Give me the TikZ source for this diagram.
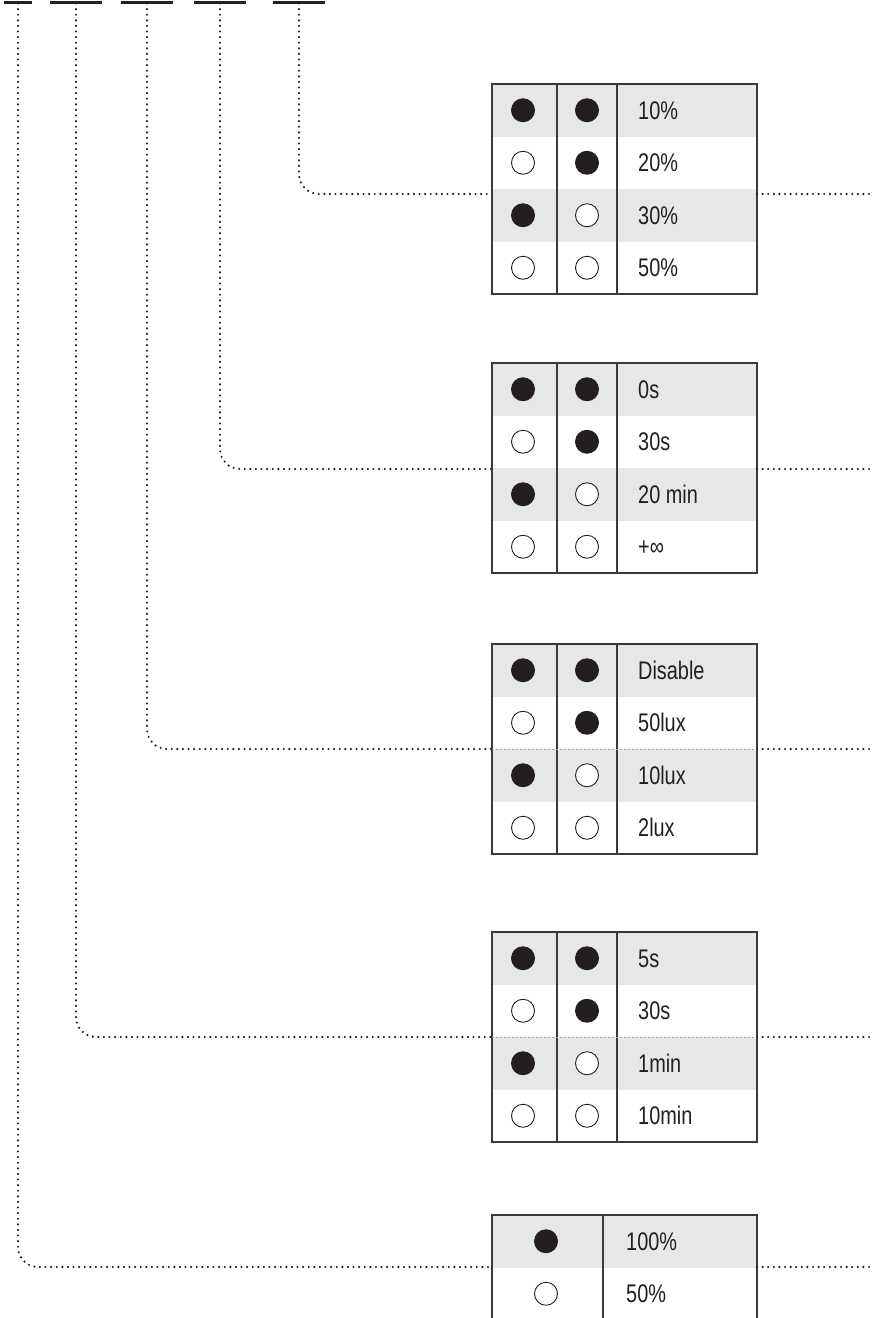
\documentclass[tikz,border=0pt]{standalone}
\usepackage{fontspec}
\setmainfont{Liberation Sans}[FakeStretch=0.78]
\definecolor{rowgray}{HTML}{E6E7E8}
\definecolor{ink}{HTML}{231F20}
\definecolor{framec}{HTML}{3A3A3A}
\tikzset{
  barline/.style={fill=ink,draw=none,minimum height=3pt,inner sep=0pt,outer sep=0pt},
  rowcell/.style={fill=#1,draw=none,minimum height=52.5pt,inner sep=0pt,outer sep=0pt,anchor=north west},
  frame/.style={draw=framec,line width=1.1pt,fill=none,inner sep=0pt,outer sep=0pt,anchor=north west},
  sep/.style={draw=framec,line width=1.1pt},
  dot/.style={circle,draw=ink,line width=0.9pt,fill=#1,minimum size=23pt,inner sep=0pt},
  lab/.style={anchor=base west,inner sep=0pt,text=ink,font=\fontsize{25.5}{30}\selectfont},
  dotline/.style={draw=ink,line width=2.4pt,line cap=round,dash pattern=on 0pt off 5.6pt,rounded corners=20pt},
  faint/.style={draw=black!35,line width=0.5pt,dash pattern=on 2pt off 2pt},
}
\newcommand\fourtable[7]{% #1 name, #2 top, #3 dotted y, #4..#7 labels
  \foreach \r/\lab/\fa/\fb/\g in {1/{#4}/ink/ink/rowgray,2/{#5}/white/ink/white,3/{#6}/ink/white/rowgray,4/{#7}/white/white/white}{
    \node[rowcell=\g,minimum width=265pt] (#1r\r) at (492,{#2+52.5*(\r-1)}) {};
    \node[dot=\fa] (#1a\r) at (523,{#2+52.5*(\r-0.5)}) {};
    \node[dot=\fb] (#1b\r) at (587,{#2+52.5*(\r-0.5)}) {};
    \node[lab] (#1t\r) at (638,{#2+52.5*(\r-0.5)+9}) {\lab};
  }
  \node[frame,minimum width=265pt,minimum height=210pt] (#1) at (492,#2) {};
  \draw[sep] (557,#2) -- (557,{#2+210});
  \draw[sep] (617,#2) -- (617,{#2+210});
  \coordinate (#1L) at (492,#3);
  \coordinate (#1R) at (757,#3);
  \coordinate (#1E) at (871,#3);
}
\begin{document}
\begin{tikzpicture}[x=1pt,y=-1pt]
\useasboundingbox (0,0) rectangle (871,1318);
\clip (0,0) rectangle (871,1318);

% top bars
\node[barline,minimum width=28pt] (b1) at (18,2) {};
\node[barline,minimum width=52pt] (b2) at (76,2) {};
\node[barline,minimum width=52pt] (b3) at (147,2) {};
\node[barline,minimum width=52pt] (b4) at (220,2) {};
\node[barline,minimum width=52pt] (b5) at (299,2) {};

\fourtable{ta}{84}{194}{10\%}{20\%}{30\%}{50\%}
\fourtable{tb}{363}{469}{0s}{30s}{20 min}{+∞}
\fourtable{tc}{644}{749}{Disable}{50lux}{10lux}{2lux}
\fourtable{td}{932}{1037}{5s}{30s}{1min}{10min}

\draw[faint] (tcL) -- (tcR);
\draw[faint] (tdL) -- (tdR);

% last table
\node[rowcell=rowgray,minimum width=265pt] (ter1) at (492,1215) {};
\node[rowcell=white,minimum width=265pt] (ter2) at (492,1267.5) {};
\node[dot=ink] (tea1) at (546,1241.25) {};
\node[dot=white] (tea2) at (546,1293.75) {};
\node[lab] (tet1) at (626,1250.25) {100\%};
\node[lab] (tet2) at (626,1302.75) {50\%};
\node[frame,minimum width=265pt,minimum height=130pt] (te) at (492,1215) {};
\draw[sep] (603,1215) -- (603,1345);
\coordinate (teL) at (492,1267);
\coordinate (teR) at (757,1267);
\coordinate (teE) at (871,1267);

% connectors
\draw[dotline] (b5.south) |- (taL);
\draw[dotline] (b4.south) |- (tbL);
\draw[dotline] (b3.south) |- (tcL);
\draw[dotline] (b2.south) |- (tdL);
\draw[dotline] (b1.south) |- (teL);
\draw[dotline] (taR) -- (taE);
\draw[dotline] (tbR) -- (tbE);
\draw[dotline] (tcR) -- (tcE);
\draw[dotline] (tdR) -- (tdE);
\draw[dotline] (teR) -- (teE);
\end{tikzpicture}
\end{document}
